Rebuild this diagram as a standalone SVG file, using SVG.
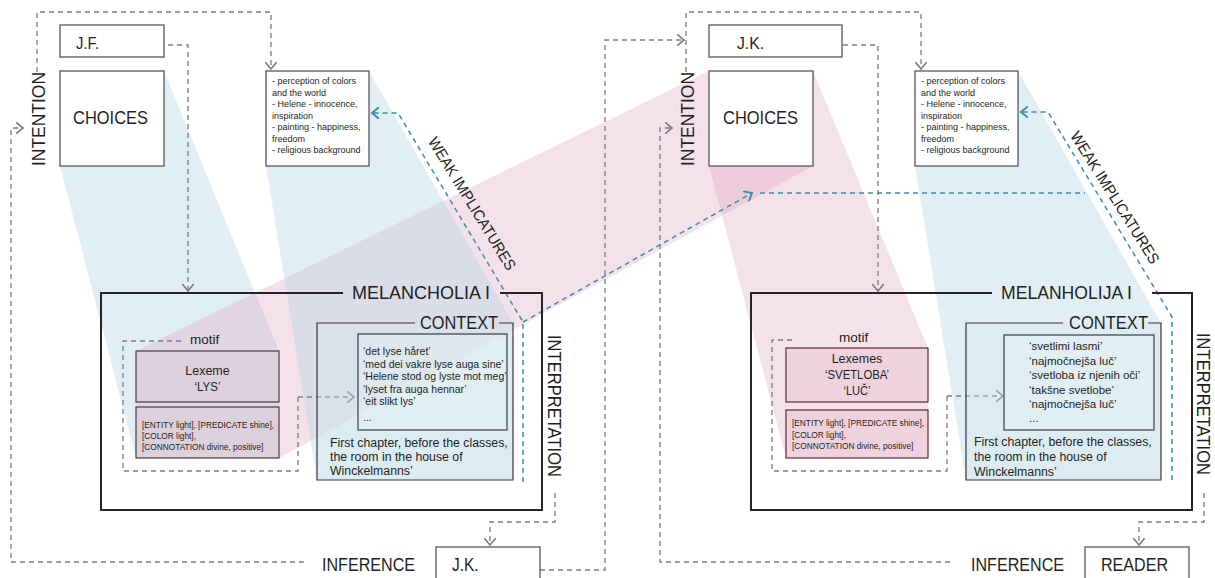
<svg xmlns="http://www.w3.org/2000/svg" width="1215" height="578" viewBox="0 0 1215 578">
<style>
.box{fill:#fff;stroke:#4a4a4a;stroke-width:1.2}
.t{font-family:"Liberation Sans",Arial,sans-serif;fill:#231f20}
.dash{fill:none;stroke:#7f7b82;stroke-width:1.3;stroke-dasharray:5 4}
.bdash{fill:none;stroke:#3b8db0;stroke-width:1.5;stroke-dasharray:5 4}
.blue{fill:#b5d6e5;fill-opacity:0.4}
.pink{fill:#e0a8c2;fill-opacity:0.35}
.frame{fill:none;stroke:#2a2229;stroke-width:2}
.ctx{fill:#d6e8f0;fill-opacity:0.35}
.ctxs{fill:none;stroke:#3b3340;stroke-width:1.2}
.qbox{fill:#e8f2f6;fill-opacity:0.4;stroke:#3a3a48;stroke-width:1.2}
.lexL{fill:#c9aebf;fill-opacity:0.15;stroke:#4a3a45;stroke-width:1.2}
.lexR{fill:#e8b8cc;fill-opacity:0.35;stroke:#5a2a40;stroke-width:1.2}
.big{font-size:18px}
.list{font-size:9px}
.sem{font-size:8.3px}
</style>
<defs>
<marker id="ag" markerUnits="userSpaceOnUse" markerWidth="10" markerHeight="12" refX="6" refY="5" orient="auto" viewBox="0 0 8 10">
<path d="M0,0 L6,5 L0,10" fill="none" stroke="#7f7b82" stroke-width="1.4"/>
</marker>
<marker id="ab" markerUnits="userSpaceOnUse" markerWidth="10" markerHeight="12" refX="6" refY="5" orient="auto" viewBox="0 0 8 10">
<path d="M0,0 L6,5 L0,10" fill="none" stroke="#3b8db0" stroke-width="1.6"/>
</marker>
</defs>

<g id="bands">
<polygon class="blue" points="60,71 164,71 279,351 279,458 136,458 60,166"/>
<polygon class="pink" points="136,351 709,71 813,71 813,166 279,458 136,458"/>
<polygon class="blue" points="266,71 369,71 513,323 513,480 317,480 266,166"/>
<polygon class="pink" points="709,71 813,71 928,348 928,458 786,458 709,166"/>
<polygon class="blue" points="915,71 1018,71 1161,323 1161,480 966,480 915,166"/>
</g>

<g id="connectors">
<path class="dash" d="M37,72 V12 H271 V69" marker-end="url(#ag)"/>
<path class="dash" d="M168,45 H188 V291" marker-end="url(#ag)"/>
<path class="dash" d="M304,562 H11 V128 H23" marker-end="url(#ag)"/>
<path class="dash" d="M555,493 V522 H490 V545" marker-end="url(#ag)"/>
<path class="dash" d="M540,570 H605 V40 H684" marker-end="url(#ag)"/>
<path class="dash" d="M298,397 H354" marker-end="url(#ag)"/>
<path class="dash" d="M686,72 V12 H921 V69" marker-end="url(#ag)"/>
<path class="dash" d="M843,45 H878 V291" marker-end="url(#ag)"/>
<path class="dash" d="M950,562 H660 V128 H672" marker-end="url(#ag)"/>
<path class="dash" d="M1204,493 V522 H1139 V545" marker-end="url(#ag)"/>
<path class="dash" d="M947,396 H1003" marker-end="url(#ag)"/>
<path class="bdash" d="M523,482 V322 L398,113 H372" marker-end="url(#ab)"/>
<path class="bdash" d="M523,322 L752,193" marker-end="url(#ab)"/>
<path class="bdash" d="M760,193 H1085"/>
<path class="bdash" d="M1172,480 V317 L1048,112 H1021" marker-end="url(#ab)"/>
</g>

<g id="labels">
<text class="t" font-size="18.5" textLength="94" lengthAdjust="spacingAndGlyphs" text-anchor="middle" transform="translate(45,119) rotate(-90)">INTENTION</text>
<text class="t" font-size="18.5" textLength="94" lengthAdjust="spacingAndGlyphs" text-anchor="middle" transform="translate(694,119) rotate(-90)">INTENTION</text>
<text class="t" font-size="18" textLength="142" lengthAdjust="spacingAndGlyphs" text-anchor="middle" transform="translate(548,406) rotate(90)">INTERPRETATION</text>
<text class="t" font-size="18" textLength="142" lengthAdjust="spacingAndGlyphs" text-anchor="middle" transform="translate(1197,404) rotate(90)">INTERPRETATION</text>
<text class="t" font-size="15.5" textLength="153" lengthAdjust="spacingAndGlyphs" text-anchor="middle" transform="translate(467.5,206.4) rotate(58.5)">WEAK IMPLICATURES</text>
<text class="t" font-size="15.5" textLength="153" lengthAdjust="spacingAndGlyphs" text-anchor="middle" transform="translate(1110.5,200.4) rotate(57.8)">WEAK IMPLICATURES</text>
<text class="t" x="322" y="571" font-size="19" textLength="93" lengthAdjust="spacingAndGlyphs">INFERENCE</text>
<text class="t" x="971" y="571" font-size="19" textLength="93" lengthAdjust="spacingAndGlyphs">INFERENCE</text>
</g>

<g id="jf">
<rect class="box" x="60" y="25" width="104" height="32"/>
<text class="t" x="76" y="49" font-size="16" textLength="23" lengthAdjust="spacingAndGlyphs">J.F.</text>
</g>
<g id="choices-left">
<rect class="box" x="60" y="71" width="104" height="95"/>
<text class="t" x="73" y="124" font-size="19" textLength="75" lengthAdjust="spacingAndGlyphs">CHOICES</text>
</g>
<g id="notes-left">
<rect class="box" x="266" y="71" width="103" height="95"/>
<text class="t list" x="272">
<tspan x="272" y="84">- perception of colors</tspan>
<tspan x="272" y="95.5">and the world</tspan>
<tspan x="272" y="107">- Helene - innocence,</tspan>
<tspan x="272" y="118.5">inspiration</tspan>
<tspan x="272" y="130">- painting - happiness,</tspan>
<tspan x="272" y="141.5">freedom</tspan>
<tspan x="272" y="153">- religious background</tspan>
</text>
</g>

<g id="melancholia">
<path class="frame" d="M343,293 H101 V510 H542 V293 H500"/>
<text class="t" x="352" y="299" font-size="18" textLength="138" lengthAdjust="spacingAndGlyphs">MELANCHOLIA I</text>
</g>
<g id="motif-left">
<path class="dash" d="M298,397 V471 H123 V341 H183"/>
<text class="t" x="190" y="344" font-size="13.5">motif</text>
</g>
<g id="lexeme-left">
<rect class="lexL" x="136" y="351" width="143" height="51"/>
<text class="t" x="207.5" y="375" font-size="12.5" text-anchor="middle">Lexeme</text>
<text class="t" x="207.5" y="391" font-size="12.5" text-anchor="middle" textLength="26" lengthAdjust="spacingAndGlyphs">‘LYS’</text>
</g>
<g id="semantics-left">
<rect class="lexL" x="136" y="407" width="143" height="51"/>
<text class="t sem">
<tspan x="142" y="427.5">[ENTITY light], [PREDICATE shine],</tspan>
<tspan x="142" y="438.5">[COLOR light],</tspan>
<tspan x="142" y="449.5">[CONNOTATION divine, positive]</tspan>
</text>
</g>
<g id="context-left">
<rect class="ctx" x="317" y="323" width="196" height="157"/>
<path class="ctxs" d="M415,323 H317 V480 H513 V323 H499"/>
<text class="t" x="420" y="329" font-size="18" textLength="78" lengthAdjust="spacingAndGlyphs">CONTEXT</text>
<rect class="qbox" x="358" y="334" width="149" height="96"/>
<text class="t" font-size="10.5">
<tspan x="363" y="355">‘det lyse håret’</tspan>
<tspan x="363" y="367.5">‘med dei vakre lyse auga sine’</tspan>
<tspan x="363" y="380">‘Helene stod og lyste mot meg’</tspan>
<tspan x="363" y="392.5">‘lyset fra auga hennar’</tspan>
<tspan x="363" y="405">‘eit slikt lys’</tspan>
<tspan x="363" y="421">...</tspan>
</text>
<text class="t" font-size="12.3">
<tspan x="330" y="447">First chapter, before the classes,</tspan>
<tspan x="330" y="461">the room in the house of</tspan>
<tspan x="330" y="475">Winckelmanns’</tspan>
</text>
</g>
<g id="jk-bottom">
<rect class="box" x="436" y="547" width="104" height="40"/>
<text class="t" x="452" y="571" font-size="18" textLength="26.5" lengthAdjust="spacingAndGlyphs">J.K.</text>
</g>

<g id="jk-top">
<rect class="box" x="709" y="25" width="133" height="32"/>
<text class="t" x="737" y="49" font-size="16" textLength="27" lengthAdjust="spacingAndGlyphs">J.K.</text>
</g>
<g id="choices-right">
<rect class="box" x="709" y="71" width="104" height="95"/>
<text class="t" x="723" y="124" font-size="19" textLength="75" lengthAdjust="spacingAndGlyphs">CHOICES</text>
</g>
<g id="notes-right">
<rect class="box" x="915" y="71" width="103" height="95"/>
<text class="t list">
<tspan x="921" y="84">- perception of colors</tspan>
<tspan x="921" y="95.5">and the world</tspan>
<tspan x="921" y="107">- Helene - innocence,</tspan>
<tspan x="921" y="118.5">inspiration</tspan>
<tspan x="921" y="130">- painting - happiness,</tspan>
<tspan x="921" y="141.5">freedom</tspan>
<tspan x="921" y="153">- religious background</tspan>
</text>
</g>

<g id="melanholija">
<path class="frame" d="M992,293 H751 V510 H1192 V293 H1152"/>
<text class="t" x="1001" y="299" font-size="18" textLength="131" lengthAdjust="spacingAndGlyphs">MELANHOLIJA I</text>
</g>
<g id="motif-right">
<path class="dash" d="M947,396 V471 H772 V340 H792"/>
<text class="t" x="839" y="342" font-size="13.5">motif</text>
</g>
<g id="lexemes-right">
<rect class="lexR" x="786" y="348" width="142" height="54"/>
<text class="t" x="857" y="363" font-size="12.5" text-anchor="middle">Lexemes</text>
<text class="t" x="857" y="379" font-size="12.5" text-anchor="middle" textLength="64" lengthAdjust="spacingAndGlyphs">‘SVETLOBA’</text>
<text class="t" x="857" y="395" font-size="12.5" text-anchor="middle" textLength="27" lengthAdjust="spacingAndGlyphs">‘LUČ’</text>
</g>
<g id="semantics-right">
<rect class="lexR" x="786" y="410" width="142" height="48"/>
<text class="t sem">
<tspan x="792" y="426">[ENTITY light], [PREDICATE shine],</tspan>
<tspan x="792" y="437.5">[COLOR light],</tspan>
<tspan x="792" y="449">[CONNOTATION divine, positive]</tspan>
</text>
</g>
<g id="context-right">
<rect class="ctx" x="966" y="323" width="195" height="157"/>
<path class="ctxs" d="M1063,323 H966 V480 H1161 V323 H1148"/>
<text class="t" x="1069" y="329" font-size="18" textLength="79" lengthAdjust="spacingAndGlyphs">CONTEXT</text>
<rect class="qbox" x="1004" y="335" width="150" height="95"/>
<text class="t" font-size="11.5">
<tspan x="1029" y="350">‘svetlimi lasmi’</tspan>
<tspan x="1029" y="364.5">‘najmočnejša luč’</tspan>
<tspan x="1029" y="379">‘svetloba iz njenih oči’</tspan>
<tspan x="1029" y="393.5">‘takšne svetlobe’</tspan>
<tspan x="1029" y="408">‘najmočnejša luč’</tspan>
<tspan x="1029" y="422">...</tspan>
</text>
<text class="t" font-size="12.3">
<tspan x="974" y="446">First chapter, before the classes,</tspan>
<tspan x="974" y="461">the room in the house of</tspan>
<tspan x="974" y="476">Winckelmanns’</tspan>
</text>
</g>
<g id="reader">
<rect class="box" x="1085" y="547" width="104" height="40"/>
<text class="t" x="1101" y="571" font-size="19" textLength="67" lengthAdjust="spacingAndGlyphs">READER</text>
</g>
</svg>
